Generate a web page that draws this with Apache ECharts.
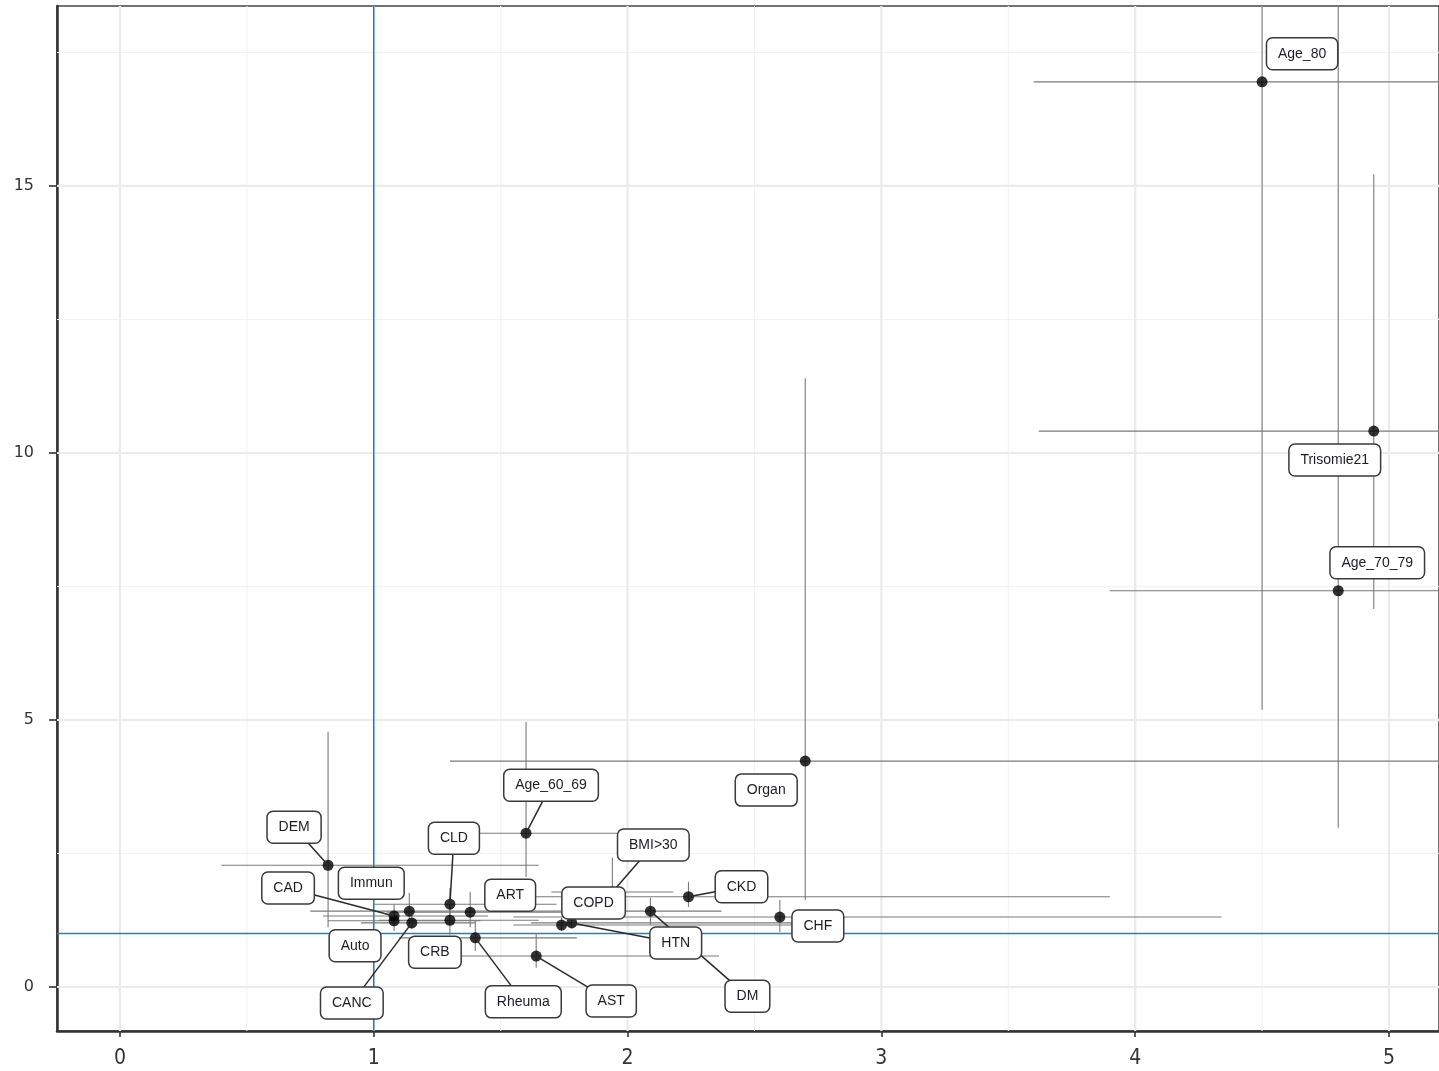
<!DOCTYPE html>
<html>
<head>
<meta charset="utf-8">
<script src="https://cdn.jsdelivr.net/npm/echarts@6/dist/echarts.min.js"></script>
<style>
  html, body { margin: 0; padding: 0; background: #ffffff; }
  #chart { width: 1439px; height: 1071px; }
</style>
</head>
<body>
<div id="chart"></div>
<script>
// Risk factors: estimate with confidence interval on both axes
const factors = ['Age_80', 'Trisomie21', 'Age_70_79', 'Organ', 'Age_60_69', 'DEM', 'CLD', 'BMI>30',
  'CAD', 'Immun', 'ART', 'COPD', 'CKD', 'CHF', 'HTN', 'Auto', 'CRB', 'CANC', 'Rheuma', 'AST', 'DM'];

const xEst  = [4.50, 4.94, 4.80, 2.70, 1.60, 0.82, 1.30, 1.94, 1.08, 1.14, 1.38, 1.74, 2.24, 2.60, 1.78, 1.08, 1.30, 1.15, 1.40, 1.64, 2.09];
const xLow  = [3.60, 3.62, 3.90, 1.30, 1.40, 0.40, 1.00, 1.70, 0.80, 0.75, 1.05, 1.55, 1.60, 1.55, 1.62, 0.82, 1.02, 0.95, 1.10, 1.30, 1.85];
const xHigh = [6.00, 6.70, 5.90, 5.60, 2.00, 1.65, 1.72, 2.18, 1.45, 1.75, 1.80, 2.78, 3.90, 4.34, 2.72, 1.42, 1.65, 1.40, 1.80, 2.36, 2.37];

const yEst  = [16.95, 10.41, 7.42, 4.23, 2.88, 2.28, 1.55, 1.78, 1.33, 1.42, 1.40, 1.16, 1.69, 1.31, 1.20, 1.24, 1.25, 1.20, 0.92, 0.58, 1.42];
const yLow  = [5.19, 7.08, 2.98, 1.63, 2.06, 1.12, 1.30, 1.50, 1.15, 1.10, 1.12, 1.05, 1.50, 1.03, 1.10, 1.05, 0.98, 1.08, 0.68, 0.36, 1.16];
const yHigh = [25.0, 15.22, 22.0, 11.40, 4.96, 4.78, 1.85, 2.42, 1.55, 1.76, 1.78, 1.30, 1.97, 1.63, 1.32, 1.45, 1.55, 1.35, 1.25, 1.01, 1.67];

// Gridlines, ticks and reference lines
const xTicks = [0, 1, 2, 3, 4, 5];
const yTicks = [0, 5, 10, 15];
const xMinor = [0.5, 1.5, 2.5, 3.5, 4.5];
const yMinor = [2.5, 7.5, 12.5, 17.5];
const refX = 1;
const refY = 1;

// Label box placement: pixel shift of each box centre from its point
const labelShift = [
  [40, -28], [-39, 29], [39, -28], [-39, 29], [25, -48], [-34, -38], [4, -66], [41, -47],
  [-106, -28], [-38, -28], [40, -17], [32, -22], [53, -10], [38, 9], [104, 20],
  [-39, 25], [-15, 32], [-60, 80], [48, 64], [75, 45], [97, 85]
];

const X_MIN = -0.248, X_MAX = 5.197;
const Y_MIN = -0.824, Y_MAX = 18.37;

const LABEL_FONT = '14px "Liberation Sans", Arial, sans-serif';
const BOX_H = 32, PAD_X = 11.5, SEG_MIN = 20;

const measureCtx = document.createElement('canvas').getContext('2d');
measureCtx.font = LABEL_FONT;
function boxWidth(t) { return measureCtx.measureText(t).width + 2 * PAD_X; }

function clampRect(cs) {
  return {
    cx: v => Math.max(cs.x, Math.min(cs.x + cs.width, v)),
    cy: v => Math.max(cs.y, Math.min(cs.y + cs.height, v))
  };
}

// grid line items: [value, orientation (0 = vertical, 1 = horizontal), kind (0 minor, 1 major, 2 reference)]
const gridItems = []
  .concat(xMinor.map(v => [v, 0, 0]))
  .concat(yMinor.map(v => [v, 1, 0]))
  .concat(xTicks.map(v => [v, 0, 1]))
  .concat(yTicks.map(v => [v, 1, 1]));
const refItems = [[refX, 0, 2], [refY, 1, 2]];

function renderGridLine(params, api) {
  const cs = params.coordSys;
  const v = api.value(0), orient = api.value(1), kind = api.value(2);
  let shape;
  if (orient === 0) {
    const px = api.coord([v, Y_MIN])[0];
    shape = { x1: px, y1: cs.y, x2: px, y2: cs.y + cs.height };
  } else {
    const py = api.coord([X_MIN, v])[1];
    shape = { x1: cs.x, y1: py, x2: cs.x + cs.width, y2: py };
  }
  const style = kind === 2 ? { stroke: '#1f80c8', lineWidth: 1.5 }
    : kind === 1 ? { stroke: '#ebebeb', lineWidth: 2.2 }
    : { stroke: '#f2f2f2', lineWidth: 1.1 };
  return { type: 'line', shape, style };
}

const pointData = factors.map((f, i) => [xEst[i], yEst[i], i]);

function renderErrorBars(params, api) {
  const i = api.value(2);
  const cs = params.coordSys;
  const c = clampRect(cs);
  const p = api.coord([xEst[i], yEst[i]]);
  const xl = c.cx(api.coord([xLow[i], yEst[i]])[0]);
  const xh = c.cx(api.coord([xHigh[i], yEst[i]])[0]);
  const yl = c.cy(api.coord([xEst[i], yLow[i]])[1]);
  const yh = c.cy(api.coord([xEst[i], yHigh[i]])[1]);
  const style = { stroke: '#7a7a7a', lineWidth: 1.1 };
  return {
    type: 'group',
    children: [
      { type: 'line', shape: { x1: xl, y1: p[1], x2: xh, y2: p[1] }, style },
      { type: 'line', shape: { x1: p[0], y1: yl, x2: p[0], y2: yh }, style }
    ]
  };
}

function labelGeom(api) {
  const i = api.value(2);
  const p = api.coord([xEst[i], yEst[i]]);
  const cx = p[0] + labelShift[i][0];
  const cy = p[1] + labelShift[i][1];
  const w = boxWidth(factors[i]);
  return { i, p, cx, cy, w };
}

function renderSegment(params, api) {
  const g = labelGeom(api);
  const dx = Math.max(Math.abs(g.p[0] - g.cx) - g.w / 2, 0);
  const dy = Math.max(Math.abs(g.p[1] - g.cy) - BOX_H / 2, 0);
  if (Math.hypot(dx, dy) < SEG_MIN) return { type: 'group', children: [] };
  return {
    type: 'line',
    shape: { x1: g.p[0], y1: g.p[1], x2: g.cx, y2: g.cy },
    style: { stroke: '#2a2a2a', lineWidth: 1.5 }
  };
}

function renderLabel(params, api) {
  const g = labelGeom(api);
  return {
    type: 'group',
    children: [
      {
        type: 'rect',
        shape: { x: g.cx - g.w / 2, y: g.cy - BOX_H / 2, width: g.w, height: BOX_H, r: 6 },
        style: { fill: '#ffffff', stroke: '#3a3a3a', lineWidth: 1.5 }
      },
      {
        type: 'text',
        x: g.cx, y: g.cy,
        style: { text: factors[g.i], font: LABEL_FONT, fill: '#1c1c24', align: 'center', verticalAlign: 'middle' }
      }
    ]
  };
}

const chart = echarts.init(document.getElementById('chart'), null, { renderer: 'canvas' });
chart.setOption({
  animation: false,
  backgroundColor: '#ffffff',
  grid: {
    left: 57, top: 6, right: 0, bottom: 40,
    show: true, borderColor: '#444444', borderWidth: 1.5, backgroundColor: 'transparent'
  },
  xAxis: {
    type: 'value', min: X_MIN, max: X_MAX,
    axisLine: { show: true, onZero: false, lineStyle: { color: '#333333', width: 2.5 } },
    axisTick: { show: true, customValues: xTicks, length: 6, lineStyle: { color: '#333333', width: 1.6 } },
    axisLabel: {
      customValues: xTicks, margin: 17, color: '#333340', fontSize: 21,
      fontFamily: '"Liberation Sans Narrow", "DejaVu Sans Condensed", sans-serif'
    },
    splitLine: { show: false }
  },
  yAxis: {
    type: 'value', min: Y_MIN, max: Y_MAX,
    axisLine: { show: true, onZero: false, lineStyle: { color: '#333333', width: 2.5 } },
    axisTick: { show: true, customValues: yTicks, length: 8, lineStyle: { color: '#333333', width: 1.6 } },
    axisLabel: {
      customValues: yTicks, margin: 23, color: '#333340', fontSize: 16,
      fontFamily: '"DejaVu Sans", sans-serif'
    },
    splitLine: { show: false }
  },
  series: [
    { type: 'custom', name: 'grid', z: 1, silent: true, data: gridItems, renderItem: renderGridLine },
    { type: 'custom', name: 'reference', z: 2, silent: true, data: refItems, renderItem: renderGridLine },
    { type: 'custom', name: 'intervals', z: 3, silent: true, data: pointData, renderItem: renderErrorBars },
    {
      type: 'scatter', name: 'estimate', z: 4, data: pointData,
      symbol: 'circle', symbolSize: 11, itemStyle: { color: '#000000' }
    },
    { type: 'custom', name: 'segments', z: 5, silent: true, data: pointData, renderItem: renderSegment },
    { type: 'custom', name: 'labels', z: 6, silent: true, data: pointData, renderItem: renderLabel }
  ]
});
</script>
</body>
</html>
